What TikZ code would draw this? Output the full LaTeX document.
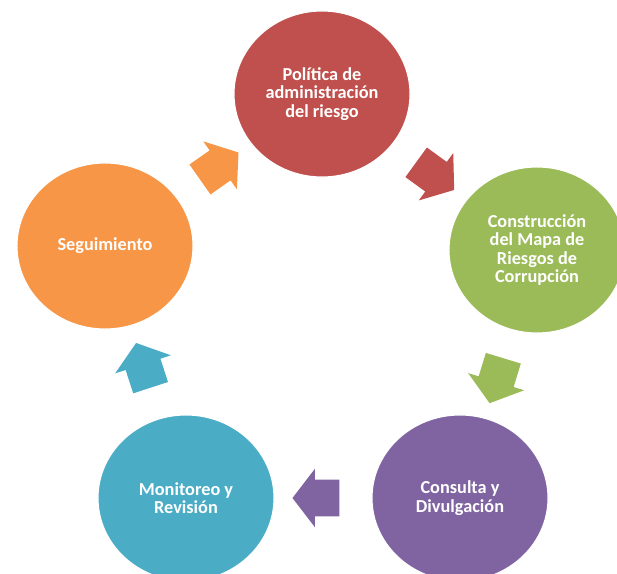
\documentclass[tikz,border=0pt]{standalone}
\usepackage{fontspec}
\setmainfont{Carlito}
\usetikzlibrary{shapes.geometric,shapes.arrows,calc}
\definecolor{rojo}{HTML}{C0504D}
\definecolor{verde}{HTML}{9BBB59}
\definecolor{morado}{HTML}{8064A2}
\definecolor{azul}{HTML}{4BACC6}
\definecolor{naranja}{HTML}{F79646}

\begin{document}
\begin{tikzpicture}[x=0.025cm,y=0.025cm,
    etapa/.style={ellipse,fill=#1,draw=white,line width=0.8pt,minimum width=4.4cm,minimum height=4.15cm,
      inner sep=0pt,text=white,align=center,font=\bfseries\fontsize{13}{13.2}\selectfont},
    flecha/.style={single arrow,fill=#1,draw=none,inner xsep=0pt,inner ysep=0.45cm,
      minimum height=1.175cm,single arrow head extend=0.275cm,single arrow tip angle=105}]
			\useasboundingbox (0,0) rectangle (617,573);
			\clip (0,0) rectangle (617,573);
			\node[etapa=rojo] (politica) at (322,479) {Política de\\administración\\del riesgo};
			\node[etapa=verde] (mapa) at (537,323) {Construcción\\del Mapa de\\Riesgos de\\Corrupción};
			\node[etapa=morado] (consulta) at (460,75) {Consulta y\\Divulgación};
			\node[etapa=azul] (monitoreo) at (186,75) {Monitoreo y\\Revisión};
			\node[etapa=naranja] (seguimiento) at (105,327) {Seguimiento};
			\node[flecha=rojo,rotate=-36] (f1) at ($(politica)!0.5!(mapa)$) {};
			\node[flecha=verde,rotate=-107] (f2) at ($(mapa)!0.5!(consulta)$) {};
			\node[flecha=morado,rotate=180] (f3) at ($(consulta)!0.5!(monitoreo)$) {};
			\node[flecha=azul,rotate=108] (f4) at ($(monitoreo)!0.5!(seguimiento)$) {};
			\node[flecha=naranja,rotate=35] (f5) at ($(seguimiento)!0.5!(politica)$) {};
		\end{tikzpicture}
\end{document}
